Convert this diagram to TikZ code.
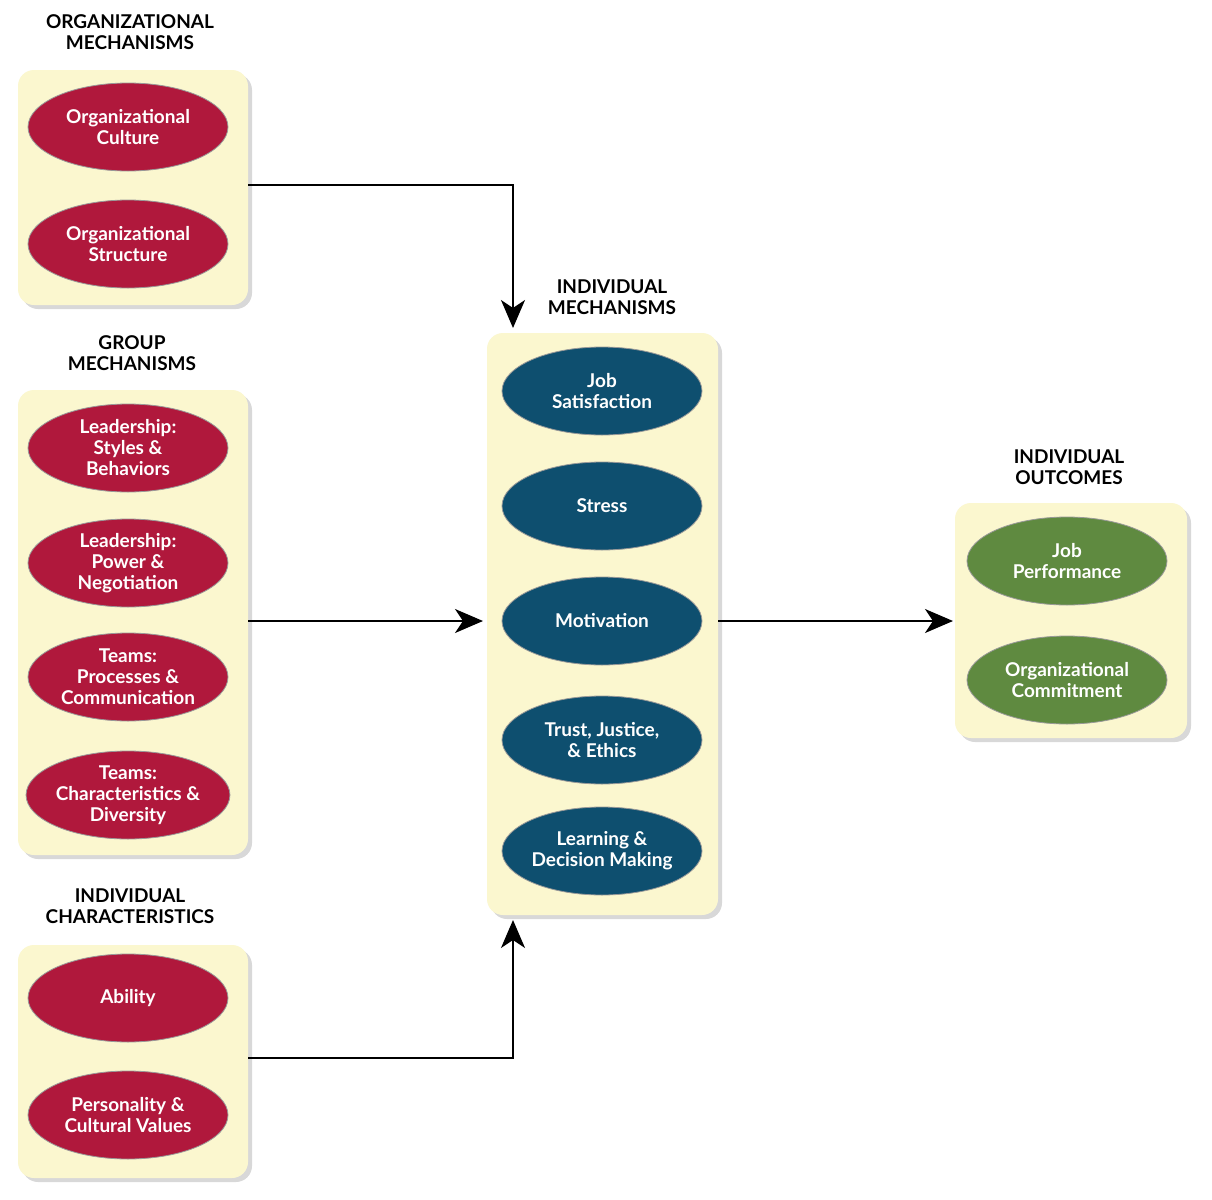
\documentclass[tikz,border=0pt]{standalone}
\usepackage{fontspec}
\setmainfont{Lato}
\usetikzlibrary{arrows.meta,shadows}
\definecolor{boxfill}{HTML}{FBF7CF}
\definecolor{redel}{HTML}{B0183C}
\definecolor{blueel}{HTML}{0E4F6F}
\definecolor{greenel}{HTML}{5F8A40}
\tikzset{
 panel/.style={draw=none,fill=boxfill,rounded corners=8pt,drop shadow={shadow xshift=2pt,shadow yshift=-2pt,opacity=0.3}},
 ell/.style={ellipse,minimum width=100pt,minimum height=44pt,inner sep=0pt,text=white,font=\bfseries\fontsize{9.5}{10.5}\selectfont,align=center,draw=white!60!black,line width=0.4pt},
 red/.style={ell,fill=redel},
 blue/.style={ell,fill=blueel},
 green/.style={ell,fill=greenel},
 head/.style={font=\bfseries\fontsize{9.5}{10.5}\selectfont,align=center},
 conn/.style={line width=0.9pt,-{Stealth[length=14pt,width=12pt,inset=4pt]}}
}
\usetikzlibrary{shapes.geometric}
\begin{document}
\begin{tikzpicture}[x=0.5pt,y=-0.5pt]
\useasboundingbox[fill=white] (0,0) rectangle (1212,1200);
% panels
\node[panel,minimum width=115pt,minimum height=117.5pt] (orgbox) at (133,187.5) {};
\node[panel,minimum width=115pt,minimum height=232.5pt] (grpbox) at (133,622.5) {};
\node[panel,minimum width=115pt,minimum height=116.5pt] (chrbox) at (133,1061.5) {};
\node[panel,minimum width=115.5pt,minimum height=291pt] (mecbox) at (602.5,624) {};
\node[panel,minimum width=116pt,minimum height=117.5pt] (outbox) at (1071,620.5) {};
% headers
\node[head] (orgh) at (130,32) {ORGANIZATIONAL\\MECHANISMS};
\node[head] (grph) at (132,353) {GROUP\\MECHANISMS};
\node[head] (chrh) at (130,906) {INDIVIDUAL\\CHARACTERISTICS};
\node[head] (mech) at (612,297) {INDIVIDUAL\\MECHANISMS};
\node[head] (outh) at (1069,467) {INDIVIDUAL\\OUTCOMES};
% ellipses
\node[red] (e1) at (128,127) {Organizational\\Culture};
\node[red] (e2) at (128,244) {Organizational\\Structure};
\node[red] (g1) at (128,448) {Leadership:\\Styles \&\\Behaviors};
\node[red] (g2) at (128,563) {Leadership:\\Power \&\\Negotiation};
\node[red] (g3) at (128,677) {Teams:\\Processes \&\\Communication};
\node[red] (g4) at (128,795) {Teams:\\Characteristics \&\\Diversity};
\node[red] (c1) at (128,998) {Ability};
\node[red] (c2) at (128,1115) {Personality \&\\Cultural Values};
\node[blue] (m1) at (602,391) {Job\\Satisfaction};
\node[blue] (m2) at (602,506) {Stress};
\node[blue] (m3) at (602,621) {Motivation};
\node[blue] (m4) at (602,740) {Trust, Justice,\\\& Ethics};
\node[blue] (m5) at (602,851) {Learning \&\\Decision Making};
\node[green] (o1) at (1067,561) {Job\\Performance};
\node[green] (o2) at (1067,680) {Organizational\\Commitment};
% connectors
\coordinate (a1) at (513,328);
\coordinate (a3) at (513,920);
\draw[conn] (orgbox.east |- 0,185) -| (a1);
\draw[conn] (grpbox.east |- 0,621) -- (483,621);
\draw[conn] (chrbox.east |- 0,1058) -| (a3);
\draw[conn] (mecbox.east |- 0,621) -- (953,621);
\end{tikzpicture}
\end{document}
